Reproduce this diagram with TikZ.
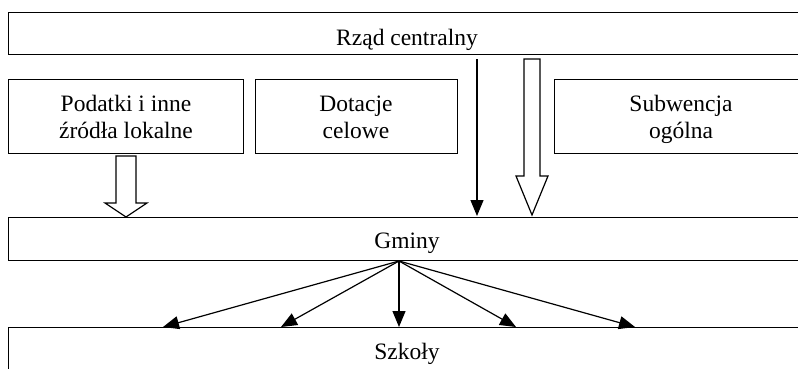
\documentclass[tikz,border=0pt]{standalone}
\usepackage{fontspec}
\setmainfont{Liberation Serif}
\usetikzlibrary{arrows.meta}
\begin{document}
\begin{tikzpicture}[x=1pt,y=-1pt, line width=1.2pt,
  box/.style={draw, rectangle, inner sep=0pt, anchor=north west},
  lbl/.style={font=\fontsize{23.5}{26.6}\selectfont, align=center, inner sep=0pt, anchor=base},
  arr/.style={-{Triangle[length=16pt,width=13pt]}},
  hollow/.style={draw, fill=white, line join=miter}]
\useasboundingbox (0,0) rectangle (798,368);
\clip (0,0) rectangle (798,368);
% boxes
\node[box, minimum width=800pt, minimum height=42pt] (rzad) at (8,12) {};
\node[box, minimum width=235pt, minimum height=74pt] (podatki) at (8,79) {};
\node[box, minimum width=202pt, minimum height=74pt] (dotacje) at (255,79) {};
\node[box, minimum width=260pt, minimum height=74pt] (subw) at (554,79) {};
\node[box, minimum width=800pt, minimum height=43pt] (gminy) at (8,217) {};
\node[box, minimum width=800pt, minimum height=60pt] (szkoly) at (8,327) {};
% texts (base anchor = baseline of last line)
\node[lbl] (trzad) at (407,45) {Rząd centralny};
\node[lbl] (tpod) at (126,138) {Podatki i inne\\źródła lokalne};
\node[lbl] (tdot) at (356,138) {Dotacje\\celowe};
\node[lbl] (tsub) at (681,138) {Subwencja\\ogólna};
\node[lbl] (tgm) at (407,248) {Gminy};
\node[lbl] (tsz) at (407,359) {Szkoły};
% thin arrow from centre
\coordinate (a1s) at (477,59);
\coordinate (a1e) at (477,216);
\draw[arr] (a1s) -- (a1e);
% hollow arrows
\draw[hollow] (116,156) -- (136,156) -- (136,203) -- (147,203) -- (126,217) -- (105,203) -- (116,203) -- cycle;
\draw[hollow] (524,59) -- (540,59) -- (540,176) -- (548,176) -- (532,215) -- (516,176) -- (524,176) -- cycle;
% fan
\coordinate (fo) at (399,261);
\coordinate (f1) at (163,327);
\coordinate (f2) at (281,327);
\coordinate (f3) at (399,327);
\coordinate (f4) at (516,327);
\coordinate (f5) at (635,327);
\foreach \t in {f1,f2,f3,f4,f5} \draw[arr] (fo) -- (\t);
\end{tikzpicture}
\end{document}
